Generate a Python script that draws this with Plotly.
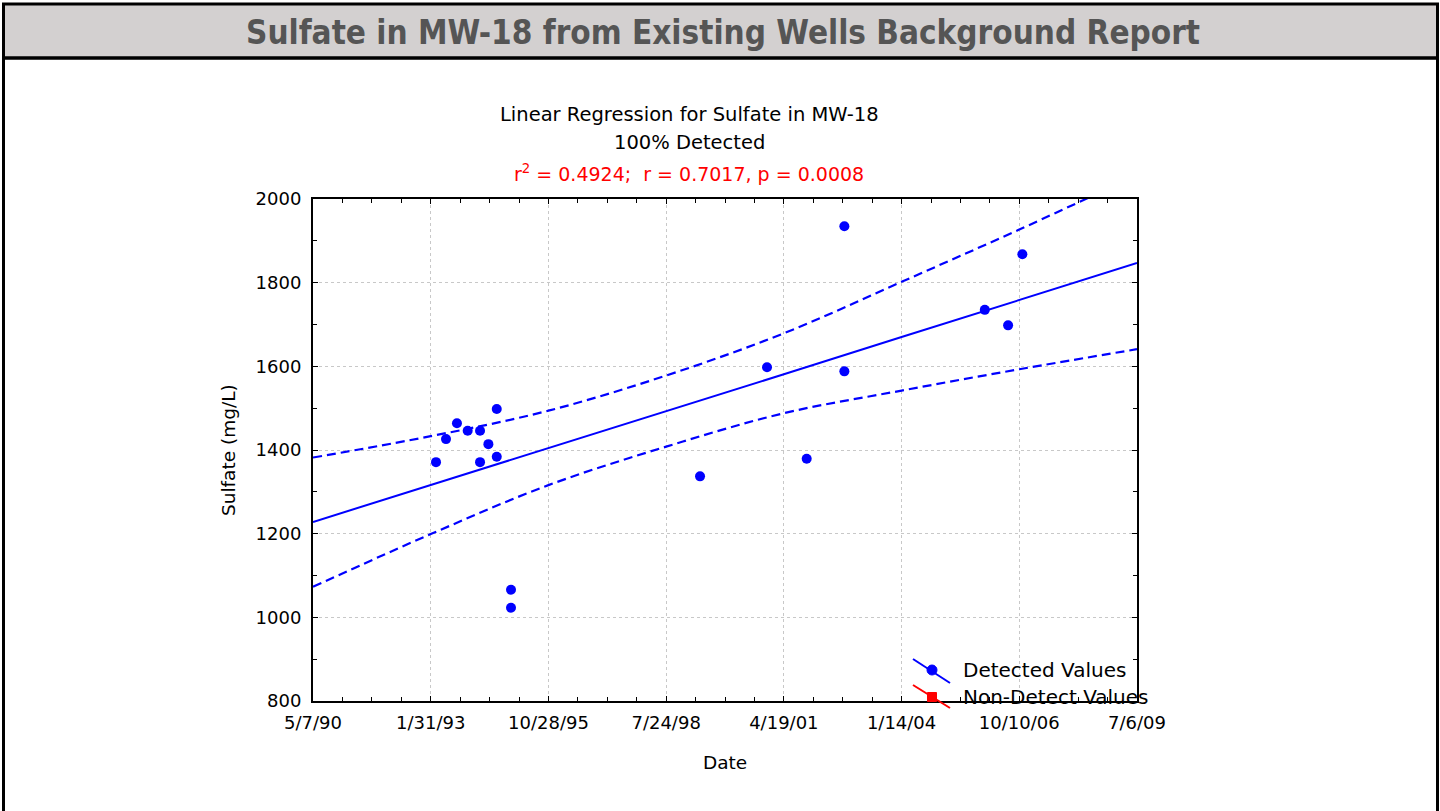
import plotly.graph_objects as go

# ---- data ----
sample_dates = ["1993-03-17", "1993-06-10", "1993-09-11", "1993-12-11", "1994-03-26",
                "1994-03-26", "1994-06-05", "1994-08-15", "1994-08-15", "1994-12-14",
                "1994-12-14", "1999-05-08", "2000-11-27", "2001-10-30", "2002-09-15",
                "2002-09-15", "2005-12-21", "2006-07-07", "2006-11-05"]
sulfate = [1371, 1426, 1464, 1446, 1446, 1371, 1414, 1498, 1384, 1066,
           1023, 1337, 1598, 1379, 1935, 1588, 1735, 1698, 1868]

tick_dates = ["1990-05-07", "1993-01-31", "1995-10-28", "1998-07-24",
              "2001-04-19", "2004-01-14", "2006-10-10", "2009-07-06"]
tick_labels = ["5/7/90", "1/31/93", "10/28/95", "7/24/98",
               "4/19/01", "1/14/04", "10/10/06", "7/6/09"]

fit_center = [1228, 1316, 1405, 1493, 1581, 1670, 1758, 1847]
fit_upper = [1382, 1433, 1494, 1578, 1679, 1802, 1927, 2057]
fit_lower = [1073, 1199, 1316, 1408, 1488, 1542, 1593, 1641]

y_ticks = [800, 1000, 1200, 1400, 1600, 1800, 2000]

# ---- layout geometry (pixels) ----
W, H = 1440, 811
L, R, T, B = 313, 1137, 199, 701
PW, PH = R - L, B - T


def px(x):
    return (x - L) / PW


def py(y):
    return (B - y) / PH


BLUE = "#0000ff"
FONT = "DejaVu Sans"

fig = go.Figure()

fig.add_trace(go.Scatter(x=tick_dates, y=fit_upper, mode="lines",
                         line=dict(color=BLUE, width=2.2, dash="9px,5px", shape="spline"),
                         showlegend=False, hoverinfo="skip"))
fig.add_trace(go.Scatter(x=tick_dates, y=fit_lower, mode="lines",
                         line=dict(color=BLUE, width=2.2, dash="9px,5px", shape="spline"),
                         showlegend=False, hoverinfo="skip"))
fig.add_trace(go.Scatter(x=tick_dates, y=fit_center, mode="lines",
                         line=dict(color=BLUE, width=2),
                         showlegend=False, hoverinfo="skip"))
fig.add_trace(go.Scatter(x=sample_dates, y=sulfate, mode="markers",
                         marker=dict(color=BLUE, size=10),
                         name="Detected Values", showlegend=False))

shapes = []
# banner
shapes.append(dict(type="rect", xref="paper", yref="paper",
                   x0=px(3.5), x1=px(1437.5), y0=py(4), y1=py(58),
                   fillcolor="#d3d0d0", line=dict(color="black", width=3), layer="below"))
# outer white frame
shapes.append(dict(type="rect", xref="paper", yref="paper",
                   x0=px(3.5), x1=px(1437.5), y0=py(58), y1=py(830),
                   fillcolor="rgba(0,0,0,0)", line=dict(color="black", width=3), layer="below"))
# legend symbols
shapes.append(dict(type="line", xref="paper", yref="paper",
                   x0=px(913), y0=py(659), x1=px(950), y1=py(683),
                   line=dict(color=BLUE, width=2), layer="above"))
shapes.append(dict(type="circle", xref="paper", yref="paper",
                   x0=px(927), x1=px(937), y0=py(665), y1=py(675),
                   fillcolor=BLUE, line=dict(color=BLUE, width=1), layer="above"))
shapes.append(dict(type="line", xref="paper", yref="paper",
                   x0=px(913), y0=py(685), x1=px(950), y1=py(708),
                   line=dict(color="#ff0000", width=2), layer="above"))
shapes.append(dict(type="rect", xref="paper", yref="paper",
                   x0=px(927.5), x1=px(936.5), y0=py(692.5), y1=py(701.5),
                   fillcolor="#ff0000", line=dict(color="#ff0000", width=1), layer="above"))

annotations = [
    dict(text="<b>Sulfate in MW-18 from Existing Wells Background Report</b>",
         x=px(723), y=py(32), xref="paper", yref="paper", showarrow=False,
         xanchor="center", yanchor="middle",
         font=dict(family="DejaVu Sans Condensed", size=33, color="#555555")),
    dict(text="Linear Regression for Sulfate in MW-18", x=px(689), y=py(115),
         xref="paper", yref="paper", showarrow=False, xanchor="center", yanchor="middle",
         font=dict(family=FONT, size=19.5, color="black")),
    dict(text="100% Detected", x=px(689), y=py(142),
         xref="paper", yref="paper", showarrow=False, xanchor="center", yanchor="middle",
         font=dict(family=FONT, size=19.5, color="black")),
    dict(text="r<sup>2</sup> = 0.4924;  r = 0.7017, p = 0.0008", x=px(689), y=py(173),
         xref="paper", yref="paper", showarrow=False, xanchor="center", yanchor="middle",
         font=dict(family=FONT, size=19, color="#ff0000")),
    dict(text="Sulfate (mg/L)", x=px(228), y=py(450), textangle=-90,
         xref="paper", yref="paper", showarrow=False, xanchor="center", yanchor="middle",
         font=dict(family=FONT, size=18.5, color="black")),
    dict(text="Date", x=px(725), y=py(762),
         xref="paper", yref="paper", showarrow=False, xanchor="center", yanchor="middle",
         font=dict(family=FONT, size=18.5, color="black")),
    dict(text="Detected Values", x=px(961), y=py(670),
         xref="paper", yref="paper", showarrow=False, xanchor="left", yanchor="middle",
         font=dict(family=FONT, size=20, color="black")),
    dict(text="Non-Detect Values", x=px(961), y=py(697),
         xref="paper", yref="paper", showarrow=False, xanchor="left", yanchor="middle",
         font=dict(family=FONT, size=20, color="black")),
]

axis_common = dict(showline=True, linecolor="black", linewidth=2, mirror="allticks",
                   ticks="inside", ticklen=5, tickcolor="black", tickwidth=1,
                   showgrid=True, gridcolor="#c8c8c8", gridwidth=1, griddash="3px,3px",
                   zeroline=False, tickfont=dict(family=FONT, size=18, color="black"))

fig.update_layout(
    width=W, height=H,
    margin=dict(l=L, r=W - R, t=T, b=H - B),
    paper_bgcolor="white", plot_bgcolor="white",
    showlegend=False,
    shapes=shapes, annotations=annotations,
    xaxis=dict(type="date", range=[tick_dates[0], tick_dates[-1]],
               tickmode="array", tickvals=tick_dates, ticktext=tick_labels,
               ticklabelstandoff=4,
               minor=dict(tick0=tick_dates[0], dtick=250 * 86400000, ticks="inside",
                          ticklen=4, tickcolor="black", showgrid=False),
               **axis_common),
    yaxis=dict(range=[800, 2000], tickmode="array", tickvals=y_ticks,
               ticklabelstandoff=6,
               minor=dict(dtick=100, ticks="inside", ticklen=4, tickcolor="black",
                          showgrid=False),
               **axis_common),
)

fig.write_html("out.html", config={"displayModeBar": False},
               post_script="document.body.style.margin='0';document.body.style.overflow='hidden';")
